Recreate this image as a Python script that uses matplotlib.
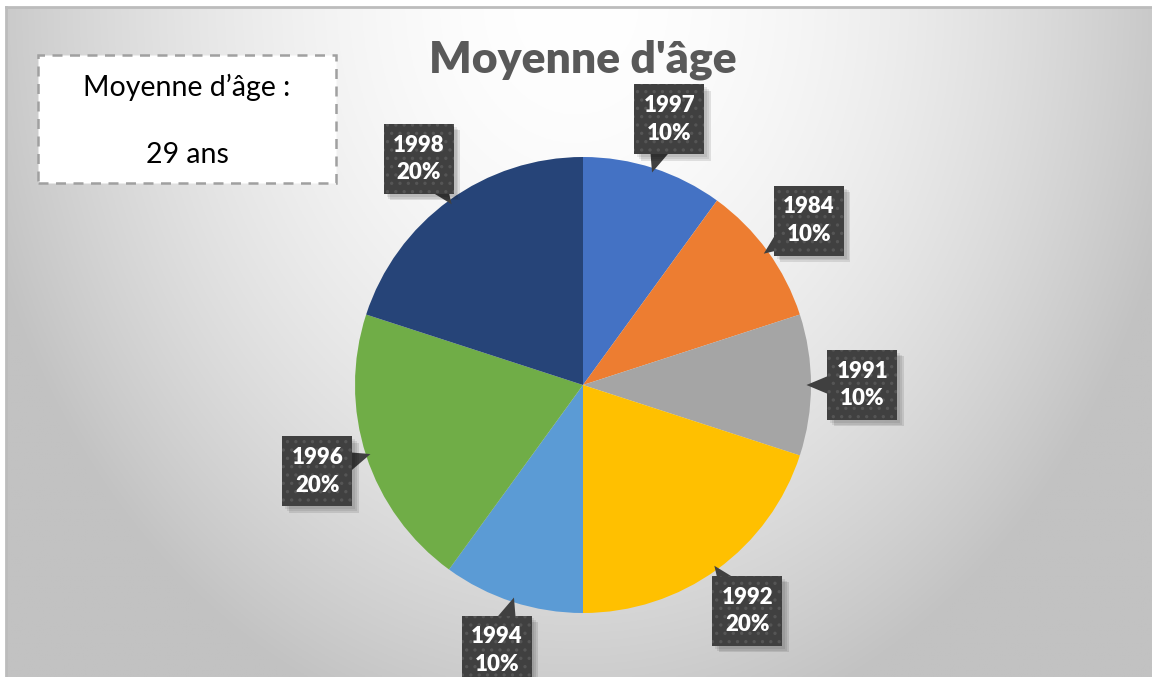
import numpy as np
import matplotlib.pyplot as plt
from matplotlib.patches import Rectangle, Polygon

# data
annees = ['1997', '1984', '1991', '1992', '1994', '1996', '1998']
parts = [10, 10, 10, 20, 10, 20, 20]
couleurs = ['#4472C4', '#ED7D31', '#A5A5A5', '#FFC000', '#5B9BD5', '#70AD47', '#264478']
titre = "Moyenne d'âge"
encart = ["Moyenne d\u2019âge :", "29 ans"]

W, H = 1152, 677
plt.rcParams['font.family'] = ['Lato', 'DejaVu Sans']
plt.rcParams['hatch.color'] = '#585858'
plt.rcParams['hatch.linewidth'] = 1.2
fig = plt.figure(figsize=(W / 100, H / 100), dpi=100, facecolor='white')

# background with radial gradient
bg = fig.add_axes([6 / W, 0, 1 - 6 / W, 670 / H])
nx, ny = 600, 350
xx, yy = np.meshgrid(np.linspace(6, W, nx), np.linspace(7, H, ny))
d = np.sqrt(((xx - 576) / 620) ** 2 + (yy / 760) ** 2)
v = 255 - 61 * np.clip(d, 0, 1) ** 1.8
img = np.dstack([v, v, v]) / 255
bg.imshow(img, aspect='auto', extent=[0, 1, 0, 1], origin='upper')
bg.set_xlim(0, 1)
bg.set_ylim(0, 1)
bg.set_xticks([])
bg.set_yticks([])
for s in ['bottom', 'right']:
    bg.spines[s].set_visible(False)
for s in ['top', 'left']:
    bg.spines[s].set_color('#bcbcbc')
    bg.spines[s].set_linewidth(2)

# title
fig.text(583 / W, 1 - 60 / H, titre, ha='center', va='center', fontsize=32,
         fontweight='heavy', color='#595959')

# text box top-left
fig.patches.append(Rectangle((38 / W, 1 - 183 / H), 298 / W, 128 / H, transform=fig.transFigure,
                             facecolor='white', edgecolor='#a0a0a0', linewidth=1.8,
                             linestyle=(0, (4, 3))))
fig.text(187 / W, 1 - 87 / H, encart[0], ha='center', va='center', fontsize=20.5, color='black')
fig.text(187 / W, 1 - 155 / H, encart[1], ha='center', va='center', fontsize=20.5, color='black')

# pie
R = 228
ax = fig.add_axes([(583 - R) / W, (H - 385 - R) / H, 2 * R / W, 2 * R / H])
wedges, _ = ax.pie(parts, colors=couleurs, startangle=90, counterclock=False, radius=1,
                   wedgeprops=dict(linewidth=0))
ax.set_xlim(-1, 1)
ax.set_ylim(-1, 1)
ax.axis('off')

bw = 70 / R
total = sum(parts)
for w, an, p in zip(wedges, annees, parts):
    mid = np.deg2rad((w.theta1 + w.theta2) / 2)
    cx, cy = 1.225 * np.cos(mid), 1.225 * np.sin(mid)
    # pointer
    tip = (0.98 * np.cos(mid), 0.98 * np.sin(mid))
    px, py = -np.sin(mid) * 0.05, np.cos(mid) * 0.05
    bx, by = 1.1 * np.cos(mid), 1.1 * np.sin(mid)
    ax.add_patch(Polygon([tip, (bx + px, by + py), (bx - px, by - py)], closed=True,
                         facecolor='#404040', edgecolor='none', zorder=3, clip_on=False))
    # shadow
    for k, a in enumerate([0.08, 0.08, 0.1]):
        off = 0.012 + 0.008 * k
        ax.add_patch(Rectangle((cx - bw / 2 + off, cy - bw / 2 - off), bw, bw, facecolor='black',
                               alpha=a, edgecolor='none', zorder=3, clip_on=False))
    ax.add_patch(Rectangle((cx - bw / 2, cy - bw / 2), bw, bw, facecolor='#404040',
                           edgecolor='none', zorder=4, clip_on=False))
    ax.add_patch(Rectangle((cx - bw / 2, cy - bw / 2), bw, bw, facecolor='none',
                           edgecolor='#555555', linewidth=0, hatch='..', zorder=4, clip_on=False))
    ax.text(cx, cy, f"{an}\n{round(100 * p / total)}%", ha='center', va='center',
            fontsize=16, fontweight='heavy', color='white', zorder=5, linespacing=1.4,
            clip_on=False)

fig.savefig('out.png', dpi=100, facecolor='white')
